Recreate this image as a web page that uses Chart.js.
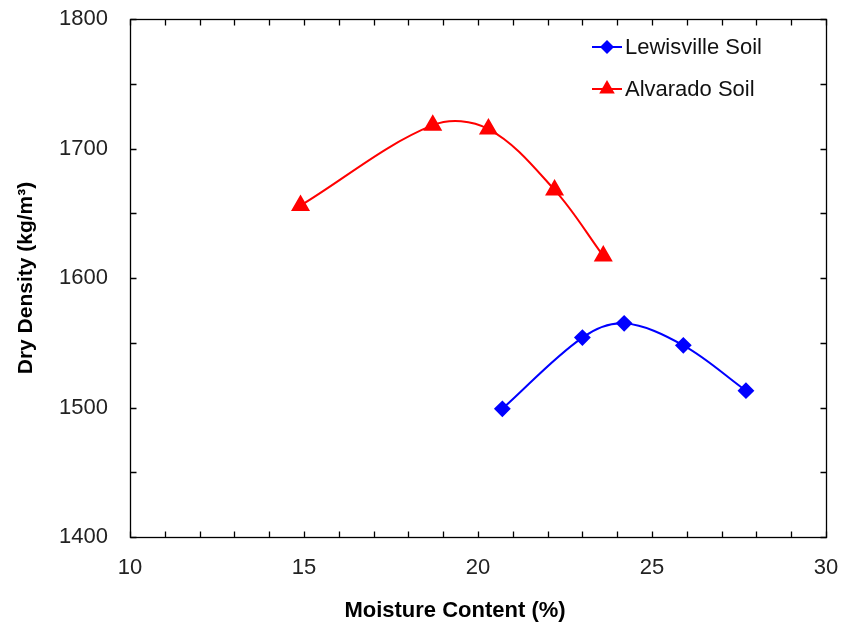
<!DOCTYPE html>
<html>
<head>
<meta charset="utf-8">
<script src="https://cdn.jsdelivr.net/npm/chart.js@4/dist/chart.umd.min.js"></script>
<style>
  html,body{margin:0;padding:0;background:#fff;}
  #wrap{width:843px;height:629px;}
</style>
</head>
<body>
<div id="wrap"><canvas id="c" width="843" height="629"></canvas></div>
<script>
// Compaction curves — dry density vs moisture content for two soils.
var lewisMoisture = [20.7, 23.0, 24.2, 25.9, 27.7];
var lewisDensity  = [1499, 1554, 1565, 1548, 1513];
var alvMoisture   = [14.9, 18.7, 20.3, 22.2, 23.6];
var alvDensity    = [1656, 1718, 1715, 1668, 1617];
var xTicks = [10, 15, 20, 25, 30];
var yTicks = [1400, 1500, 1600, 1700, 1800];
var seriesNames = ["Lewisville Soil", "Alvarado Soil"];
var xTitle = "Moisture Content (%)";
var yTitle = "Dry Density (kg/m\u00B3)";

var FONT = "'Liberation Sans', Arial, sans-serif";
function pts(xs, ys){ return xs.map(function(x,i){ return {x:x, y:ys[i]}; }); }

// box round the plot with inward ticks on all four sides, the inset legend, x title
var frame = {
  id: "frame",
  afterDraw: function(chart){
    var ctx = chart.ctx, a = chart.chartArea, xs = chart.scales.x, ys = chart.scales.y;
    var L = Math.round(a.left)+0.5, R = Math.round(a.right)+0.5, T = Math.round(a.top)+0.5, B = Math.round(a.bottom)+0.5;
    ctx.save();
    ctx.strokeStyle = "#000"; ctx.lineWidth = 1.3;
    ctx.strokeRect(L, T, R-L, B-T);
    var tl = 6, v, p;
    ctx.beginPath();
    for (v = xs.min; v <= xs.max; v += 1) {
      p = Math.round(xs.getPixelForValue(v))+0.5;
      ctx.moveTo(p, B); ctx.lineTo(p, B-tl);
      ctx.moveTo(p, T); ctx.lineTo(p, T+tl);
    }
    for (v = ys.min; v <= ys.max; v += 50) {
      p = Math.round(ys.getPixelForValue(v))+0.5;
      ctx.moveTo(L, p); ctx.lineTo(L+tl, p);
      ctx.moveTo(R, p); ctx.lineTo(R-tl, p);
    }
    ctx.stroke();

    // legend
    var lx = 592, ly = [47, 89];
    ctx.font = "22px " + FONT;
    ctx.textBaseline = "middle"; ctx.textAlign = "left";
    chart.data.datasets.forEach(function(ds, i){
      var y = ly[i];
      ctx.strokeStyle = ds.borderColor; ctx.lineWidth = 2;
      ctx.beginPath(); ctx.moveTo(lx, y); ctx.lineTo(lx+30, y); ctx.stroke();
      ctx.fillStyle = ds.backgroundColor;
      var cx = lx+15, r = ds.pointRadius;
      ctx.beginPath();
      if (ds.pointStyle === "rectRot") {
        ctx.moveTo(cx-r, y); ctx.lineTo(cx, y-r); ctx.lineTo(cx+r, y); ctx.lineTo(cx, y+r);
      } else {
        ctx.moveTo(cx, y-r); ctx.lineTo(cx+r*0.866, y+r*0.5); ctx.lineTo(cx-r*0.866, y+r*0.5);
      }
      ctx.closePath(); ctx.fill();
      ctx.fillStyle = "#111";
      ctx.fillText(ds.label, lx+33, y+1);
    });

    // x axis title (sits a little left of the plot centre in the original)
    ctx.font = "bold 22px " + FONT;
    ctx.fillStyle = "#000"; ctx.textAlign = "center";
    ctx.fillText(xTitle, 455, 611);
    ctx.restore();
  }
};

// tick marks are drawn by the frame plugin; the library's own (transparent) tick
// length only sets the label gap so the layout padding is not inflated
var hiddenGrid = function(len){ return {display: true, drawOnChartArea: false, drawTicks: true, tickLength: len, tickColor: "rgba(0,0,0,0)", color: "rgba(0,0,0,0)"}; };

new Chart(document.getElementById("c"), {
  type: "line",
  data: {
    datasets: [
      {label: seriesNames[0], data: pts(lewisMoisture, lewisDensity),
       borderColor: "#0000ff", backgroundColor: "#0000ff", borderWidth: 2,
       pointStyle: "rectRot", pointRadius: 7, pointHoverRadius: 7, tension: 0.35},
      {label: seriesNames[1], data: pts(alvMoisture, alvDensity),
       borderColor: "#ff0000", backgroundColor: "#ff0000", borderWidth: 2,
       pointStyle: "triangle", pointRadius: 9, pointHoverRadius: 9, tension: 0.35}
    ]
  },
  options: {
    responsive: false, animation: false, devicePixelRatio: 1,
    layout: {padding: {left: 0, top: 19, right: 17, bottom: 0}},
    plugins: {legend: {display: false}, tooltip: {enabled: false}},
    scales: {
      x: {
        type: "linear", min: 10, max: 30,
        afterFit: function(s){ s.height = 92; },
        afterBuildTicks: function(s){ s.ticks = xTicks.map(function(v){ return {value: v}; }); },
        grid: hiddenGrid(18),
        border: {display: false},
        ticks: {padding: 0, color: "#222", font: {family: FONT, size: 22},
                callback: function(v){ return String(v); }}
      },
      y: {
        type: "linear", min: 1400, max: 1800,
        afterFit: function(s){ s.width = 130; },
        afterBuildTicks: function(s){ s.ticks = yTicks.map(function(v){ return {value: v}; }); },
        grid: hiddenGrid(22),
        border: {display: false},
        ticks: {padding: 0, color: "#222", font: {family: FONT, size: 22},
                callback: function(v){ return String(v); }},
        title: {display: true, text: yTitle, color: "#000",
                font: {family: FONT, size: 21, weight: "bold"},
                padding: {top: 14, bottom: 0}}
      }
    }
  },
  plugins: [frame]
});
</script>
</body>
</html>
